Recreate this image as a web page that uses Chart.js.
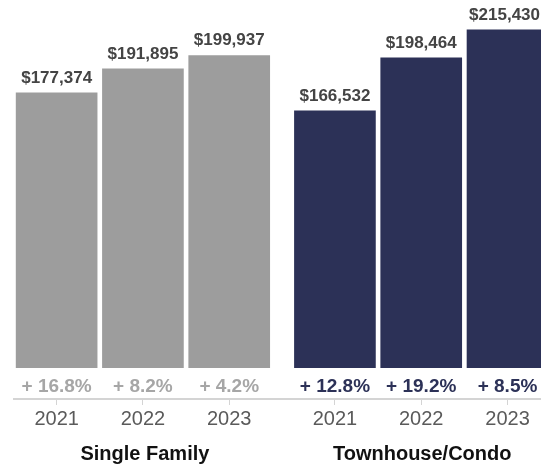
<!DOCTYPE html>
<html>
<head>
<meta charset="utf-8">
<script src="https://cdn.jsdelivr.net/npm/chart.js@4"></script>
<style>
  html, body { margin: 0; padding: 0; background: #fff; overflow: hidden; }
  #wrap { width: 541px; height: 467px; position: relative; }
</style>
</head>
<body>
<div id="wrap"><canvas id="chart"></canvas></div>
<script>
const years = ['2021', '2022', '2023'];
const groups = ['Single Family', 'Townhouse/Condo'];
const singleFamily = [177374, 191895, 199937];
const townhouse = [166532, 198464, 215430];
const singleFamilyChange = ['+ 16.8%', '+ 8.2%', '+ 4.2%'];
const townhouseChange = ['+ 12.8%', '+ 19.2%', '+ 8.5%'];

const GRAY = '#9d9d9d';
const NAVY = '#2c3157';
const FONT = "'Liberation Sans', Arial, Helvetica, sans-serif";
const GROUP_GAP = 0.225;

// bar slot on the linear x axis, second group pushed right a bit
const slot = (g, i) => g * (years.length + GROUP_GAP) + i;
const tickPositions = [...years.map((y, i) => slot(0, i)), ...years.map((y, i) => slot(1, i))];
const tickLabels = [...years, ...years];

const fmt = (v) => '$' + v.toLocaleString('en-US');

Chart.defaults.font.family = FONT;

const labelPlugin = {
    id: 'labels',
    afterDatasetsDraw(chart) {
        const ctx = chart.ctx;
        const area = chart.chartArea;
        const changes = [singleFamilyChange, townhouseChange];
        ctx.save();
        chart.data.datasets.forEach((ds, d) => {
            const meta = chart.getDatasetMeta(d);
            meta.data.forEach((bar, i) => {
                // value on top
                ctx.font = 'bold 17px ' + FONT;
                ctx.fillStyle = '#444';
                ctx.textAlign = 'center';
                ctx.textBaseline = 'alphabetic';
                const txt = fmt(ds.data[i].y);
                const w = ctx.measureText(txt).width;
                let x = bar.x;
                if (x + w / 2 > chart.width - 1) x = chart.width - 1 - w / 2;
                ctx.fillText(txt, x, bar.y - 10);

                // change below the bar
                ctx.font = 'bold 19px ' + FONT;
                ctx.fillStyle = d === 1 ? NAVY : '#a6a6a6';
                ctx.textBaseline = 'middle';
                ctx.fillText(changes[d][i], bar.x, area.bottom - 12.5);
            });
            // group name
            const mid = meta.data[1];
            ctx.font = 'bold 20px ' + FONT;
            ctx.fillStyle = '#111';
            ctx.textBaseline = 'middle';
            ctx.fillText(groups[d], mid.x + (d === 0 ? 2 : 1), 454);
        });
        ctx.restore();
    }
};

new Chart(document.getElementById('chart'), {
    type: 'bar',
    plugins: [labelPlugin],
    data: {
        datasets: [
            {
                label: groups[0],
                data: singleFamily.map((v, i) => ({ x: slot(0, i), y: v })),
                backgroundColor: GRAY,
                barThickness: 81,
                base: 11700,
                grouped: false
            },
            {
                label: groups[1],
                data: townhouse.map((v, i) => ({ x: slot(1, i), y: v })),
                backgroundColor: NAVY,
                barThickness: 81,
                base: 11700,
                grouped: false
            }
        ]
    },
    options: {
        responsive: true,
        maintainAspectRatio: false,
        animation: false,
        layout: { padding: { left: 14, right: 0, top: 0, bottom: 34 } },
        plugins: {
            legend: { display: false },
            tooltip: { enabled: false }
        },
        scales: {
            x: {
                type: 'linear',
                offset: false,
                min: -0.494,
                max: 5.613,
                afterBuildTicks: (scale) => {
                    scale.ticks = tickPositions.map((v) => ({ value: v }));
                },
                ticks: {
                    autoSkip: false,
                    maxRotation: 0,
                    padding: 2,
                    color: '#5a5a5a',
                    font: { size: 20 },
                    callback: (value, index) => tickLabels[index]
                },
                grid: {
                    offset: false,
                    drawOnChartArea: false,
                    drawTicks: true,
                    tickLength: 6,
                    color: '#d4d4d4'
                },
                border: { display: true, color: '#d4d4d4', width: 2 }
            },
            y: {
                display: false,
                min: -7200,
                max: 233400
            }
        }
    }
});
</script>
</body>
</html>
